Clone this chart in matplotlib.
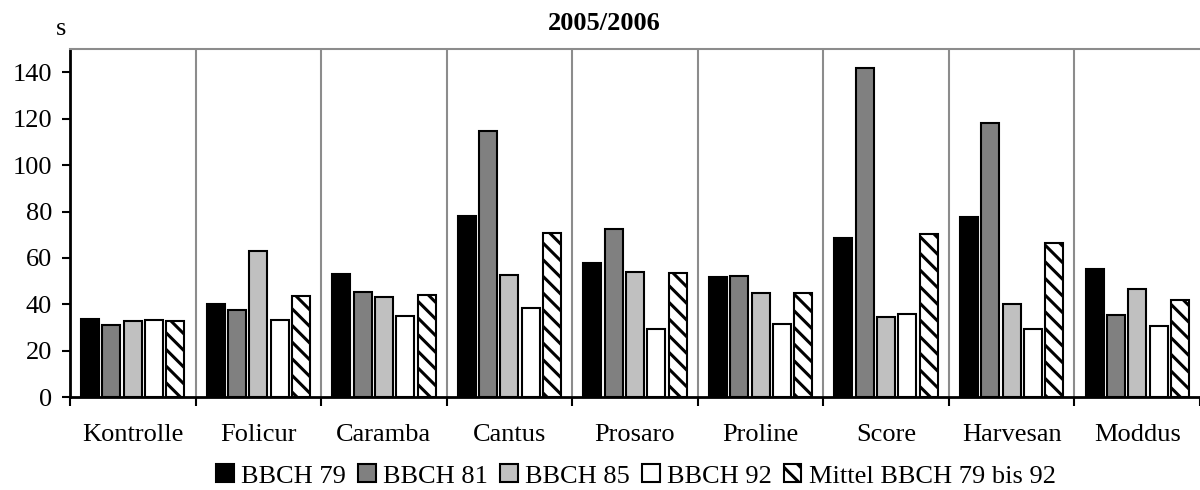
import numpy as np
import matplotlib
matplotlib.use("Agg")
import matplotlib.pyplot as plt

plt.rcParams['font.family'] = ['Liberation Serif', 'DejaVu Serif']
plt.rcParams['hatch.linewidth'] = 2.2

categories = ["Kontrolle", "Folicur", "Caramba", "Cantus", "Prosaro",
              "Proline", "Score", "Harvesan", "Moddus"]
series_names = ["BBCH 79", "BBCH 81", "BBCH 85", "BBCH 92", "Mittel BBCH 79 bis 92"]

bbch79 = [33.8, 40.2, 52.9, 77.9, 57.8, 51.8, 68.6, 77.6, 55.1]
bbch81 = [31.0, 37.4, 45.2, 114.9, 72.4, 52.3, 142.0, 118.2, 35.3]
bbch85 = [32.8, 63.1, 43.2, 52.6, 54.1, 44.8, 34.6, 40.0, 46.7]
bbch92 = [33.4, 33.1, 35.0, 38.4, 29.3, 31.4, 35.7, 29.5, 30.6]
mittel = [32.8, 43.6, 44.2, 70.8, 53.4, 45.0, 70.2, 66.4, 41.7]

series = [bbch79, bbch81, bbch85, bbch92, mittel]
colors = ["#000000", "#808080", "#c0c0c0", "#ffffff", "#ffffff"]
hatches = [None, None, None, None, "\\\\"]

fig = plt.figure(figsize=(12, 4.9), dpi=100)
ax = fig.add_axes([70 / 1200, 1 - 397.3 / 490, 1130 / 1200, (397.3 - 49) / 490])

x = np.arange(len(categories))
pitch = 0.17
width = 0.143
for i, (vals, c, h) in enumerate(zip(series, colors, hatches)):
    ax.bar(x + (i - 2) * pitch, vals, width, color=c, edgecolor="black",
           linewidth=1.5, hatch=h, label=series_names[i], zorder=3)

ax.set_xlim(-0.5, len(categories) - 0.5)
ax.set_ylim(0, 150)
ax.set_yticks(range(0, 141, 20))

# gray separators between groups
for b in np.arange(0.5, len(categories) - 0.5, 1):
    ax.axvline(b, color="#8c8c8c", linewidth=1.5, zorder=1)

ax.set_xticks(np.arange(-0.5, len(categories), 1))
ax.set_xticklabels([])
ax.set_xticks(x, minor=True)
ax.set_xticklabels(categories, minor=True)
ax.tick_params(axis="x", which="minor", length=0, pad=19, labelsize=19)
ax.tick_params(axis="x", which="major", length=6.5, width=1.5)
ax.tick_params(axis="y", length=6, width=1.5, labelsize=19, pad=7)

for s in ["left", "bottom"]:
    ax.spines[s].set_linewidth(2)
ax.spines["top"].set_color("#8c8c8c")
ax.spines["top"].set_linewidth(1.5)
ax.spines["right"].set_visible(False)

fig.text(604 / 1200, 1 - 23 / 490, "2005/2006", ha="center", va="center",
         fontsize=19, fontweight="bold")
fig.text(61 / 1200, 1 - 29 / 490, "s", ha="center", va="center", fontsize=19)

fig.legend(loc="center", bbox_to_anchor=(636 / 1200, 1 - 476 / 490), ncol=5,
           frameon=False, fontsize=19, handlelength=0.68, handleheight=0.68,
           handletextpad=0.27, columnspacing=0.45, borderaxespad=0,
           borderpad=0)

fig.savefig("out.png", dpi=100)
